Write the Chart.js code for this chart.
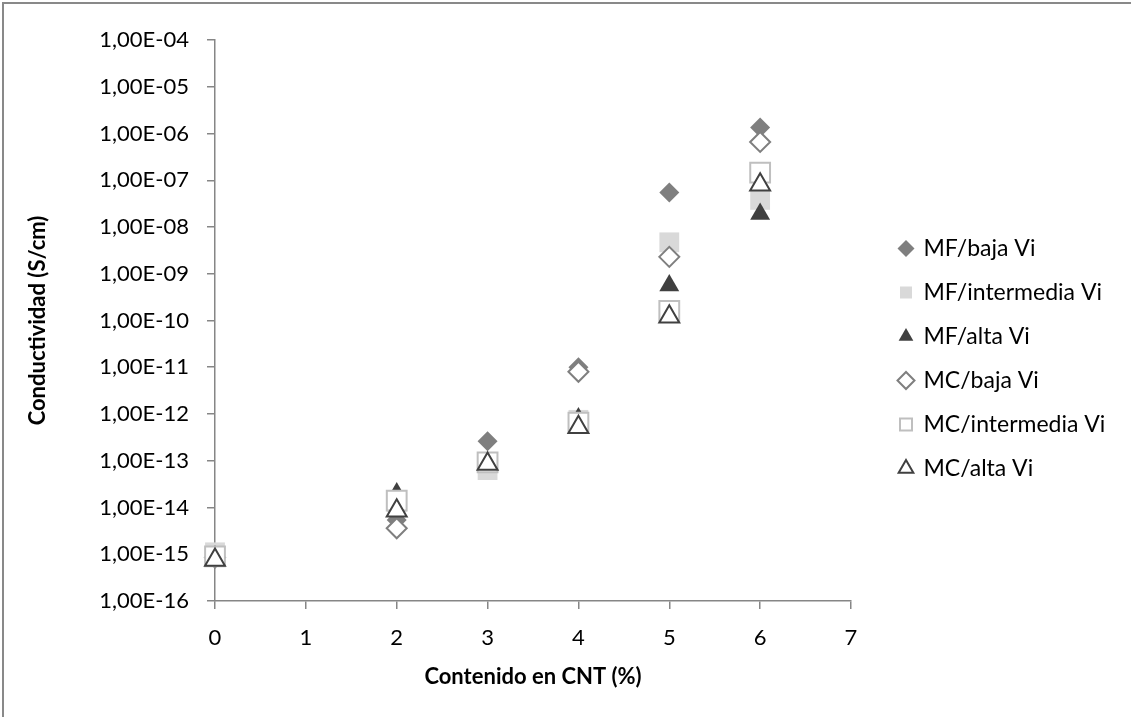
<!DOCTYPE html>
<html lang="es">
<head>
    <meta charset="UTF-8">
    <title>Conductividad vs contenido en CNT</title>
    <script src="https://cdn.jsdelivr.net/npm/chart.js@4.4.1/dist/chart.umd.min.js"></script>
    <style>
        html, body { margin: 0; padding: 0; background: #fff; }
        canvas { display: block; }
    </style>
</head>
<body>
    <canvas id="chart" width="1131" height="717"></canvas>

    <script>
        // Data
        const seriesNames = ['MF/baja Vi', 'MF/intermedia Vi', 'MF/alta Vi', 'MC/baja Vi', 'MC/intermedia Vi', 'MC/alta Vi'];
        const cntContent = [0, 2, 3, 4, 5, 6];

        const mfBaja       = [9.0e-16, 5.4e-15, 2.6e-13, 1.0e-11, 5.5e-8, 1.35e-6];
        const mfIntermedia = [1.1e-15, 1.3e-14, 6.3e-14, 7.5e-13, 4.7e-9, 3.8e-8];
        const mfAlta       = [9.0e-16, 2.0e-14, 8.0e-14, 8.0e-13, 5.6e-10, 1.9e-8];
        const mcBaja       = [8.5e-16, 3.6e-15, null, 8.0e-12, 2.3e-9, 6.6e-7];
        const mcIntermedia = [9.0e-16, 1.4e-14, 9.2e-14, 6.5e-13, 1.6e-10, 1.45e-7];
        const mcAlta       = [7.5e-16, 8.5e-15, 8.5e-14, 5.2e-13, 1.2e-10, 8.0e-8];

        const yTickValues = [1e-16, 1e-15, 1e-14, 1e-13, 1e-12, 1e-11, 1e-10, 1e-9, 1e-8, 1e-7, 1e-6, 1e-5, 1e-4];
        const yTickLabels = ['1,00E-16', '1,00E-15', '1,00E-14', '1,00E-13', '1,00E-12', '1,00E-11',
                             '1,00E-10', '1,00E-09', '1,00E-08', '1,00E-07', '1,00E-06', '1,00E-05', '1,00E-04'];

        const xTitle = 'Contenido en CNT (%)';
        const yTitle = 'Conductividad (S/cm)';

        const axisGray = '#868686';
        const toPoints = vals => cntContent.map((x, i) => ({ x: x, y: vals[i] }));

        // marker look per series, Excel-like
        const markers = [
            { pointStyle: 'rectRot',  pointRadius: 10,   backgroundColor: '#7f7f7f', borderColor: '#7f7f7f', borderWidth: 0 },
            { pointStyle: 'rect',     pointRadius: 14,   backgroundColor: '#d9d9d9', borderColor: '#d9d9d9', borderWidth: 0 },
            { pointStyle: 'triangle', pointRadius: 11.5, backgroundColor: '#404040', borderColor: '#404040', borderWidth: 0 },
            { pointStyle: 'rectRot',  pointRadius: 10,   backgroundColor: '#ffffff', borderColor: '#7f7f7f', borderWidth: 2 },
            { pointStyle: 'rect',     pointRadius: 14,   backgroundColor: '#ffffff', borderColor: '#bfbfbf', borderWidth: 2 },
            { pointStyle: 'triangle', pointRadius: 11.5, backgroundColor: '#ffffff', borderColor: '#404040', borderWidth: 2 }
        ];
        const seriesValues = [mfBaja, mfIntermedia, mfAlta, mcBaja, mcIntermedia, mcAlta];

        const datasets = seriesNames.map((name, i) => Object.assign({
            label: name,
            data: toPoints(seriesValues[i]),
            showLine: false,
            clip: false,
            order: seriesNames.length - i   // later series on top, as in Excel
        }, markers[i]));

        // outer frame (top and left edges are visible in the reference)
        const framePlugin = {
            id: 'frame',
            beforeDraw(chart) {
                const ctx = chart.ctx;
                ctx.save();
                ctx.strokeStyle = '#898989';
                ctx.lineWidth = 2;
                ctx.beginPath();
                ctx.moveTo(3, chart.height);
                ctx.lineTo(3, 3);
                ctx.lineTo(chart.width, 3);
                ctx.stroke();
                ctx.restore();
            }
        };

        // push the legend a little to the right of the plot
        const legendShift = {
            id: 'legendShift',
            afterLayout(chart) {
                const l = chart.legend;
                if (!l) return;
                const d = 879 - l.left;
                l.left += d;
                l.right += d;
            }
        };

        Chart.defaults.font.family = 'Lato';
        Chart.defaults.color = '#000';

        new Chart(document.getElementById('chart'), {
            type: 'scatter',
            data: { datasets: datasets },
            options: {
                responsive: false,
                animation: false,
                events: [],
                layout: { padding: 0 },
                plugins: {
                    tooltip: { enabled: false },
                    legend: {
                        position: 'right',
                        labels: {
                            usePointStyle: true,
                            boxWidth: 12,
                            boxHeight: 12,
                            padding: 21,
                            font: { size: 23 },
                            color: '#000',
                            sort: (a, b) => a.datasetIndex - b.datasetIndex
                        }
                    }
                },
                scales: {
                    x: {
                        type: 'linear',
                        min: 0,
                        max: 7,
                        ticks: { stepSize: 1, padding: 16, font: { size: 22 }, color: '#000' },
                        grid: { drawOnChartArea: false, drawTicks: true, tickLength: 8, color: axisGray, lineWidth: 1.5 },
                        border: { color: axisGray, width: 1.5 },
                        title: { display: true, text: xTitle, font: { size: 22, weight: 'bold' }, color: '#000', padding: { top: 0, bottom: 27 } },
                        afterFit(scale) {
                            scale.height = 116;
                            scale.paddingRight = 280;
                        }
                    },
                    y: {
                        type: 'logarithmic',
                        min: 1e-16,
                        max: 1e-4,
                        afterBuildTicks(scale) {
                            scale.ticks = yTickValues.map(v => ({ value: v }));
                        },
                        ticks: {
                            padding: 18,
                            font: { size: 22 },
                            color: '#000',
                            callback: (value, index) => yTickLabels[index]
                        },
                        grid: { drawOnChartArea: false, drawTicks: true, tickLength: 8, color: axisGray, lineWidth: 1.5 },
                        border: { color: axisGray, width: 1.5 },
                        title: { display: true, text: yTitle, font: { size: 22, weight: 'bold' }, color: '#000', padding: { top: 25, bottom: 0 } },
                        afterFit(scale) {
                            scale.width = 215;
                            scale.paddingTop = 40;
                        }
                    }
                }
            },
            plugins: [framePlugin, legendShift]
        });
    </script>
</body>
</html>
